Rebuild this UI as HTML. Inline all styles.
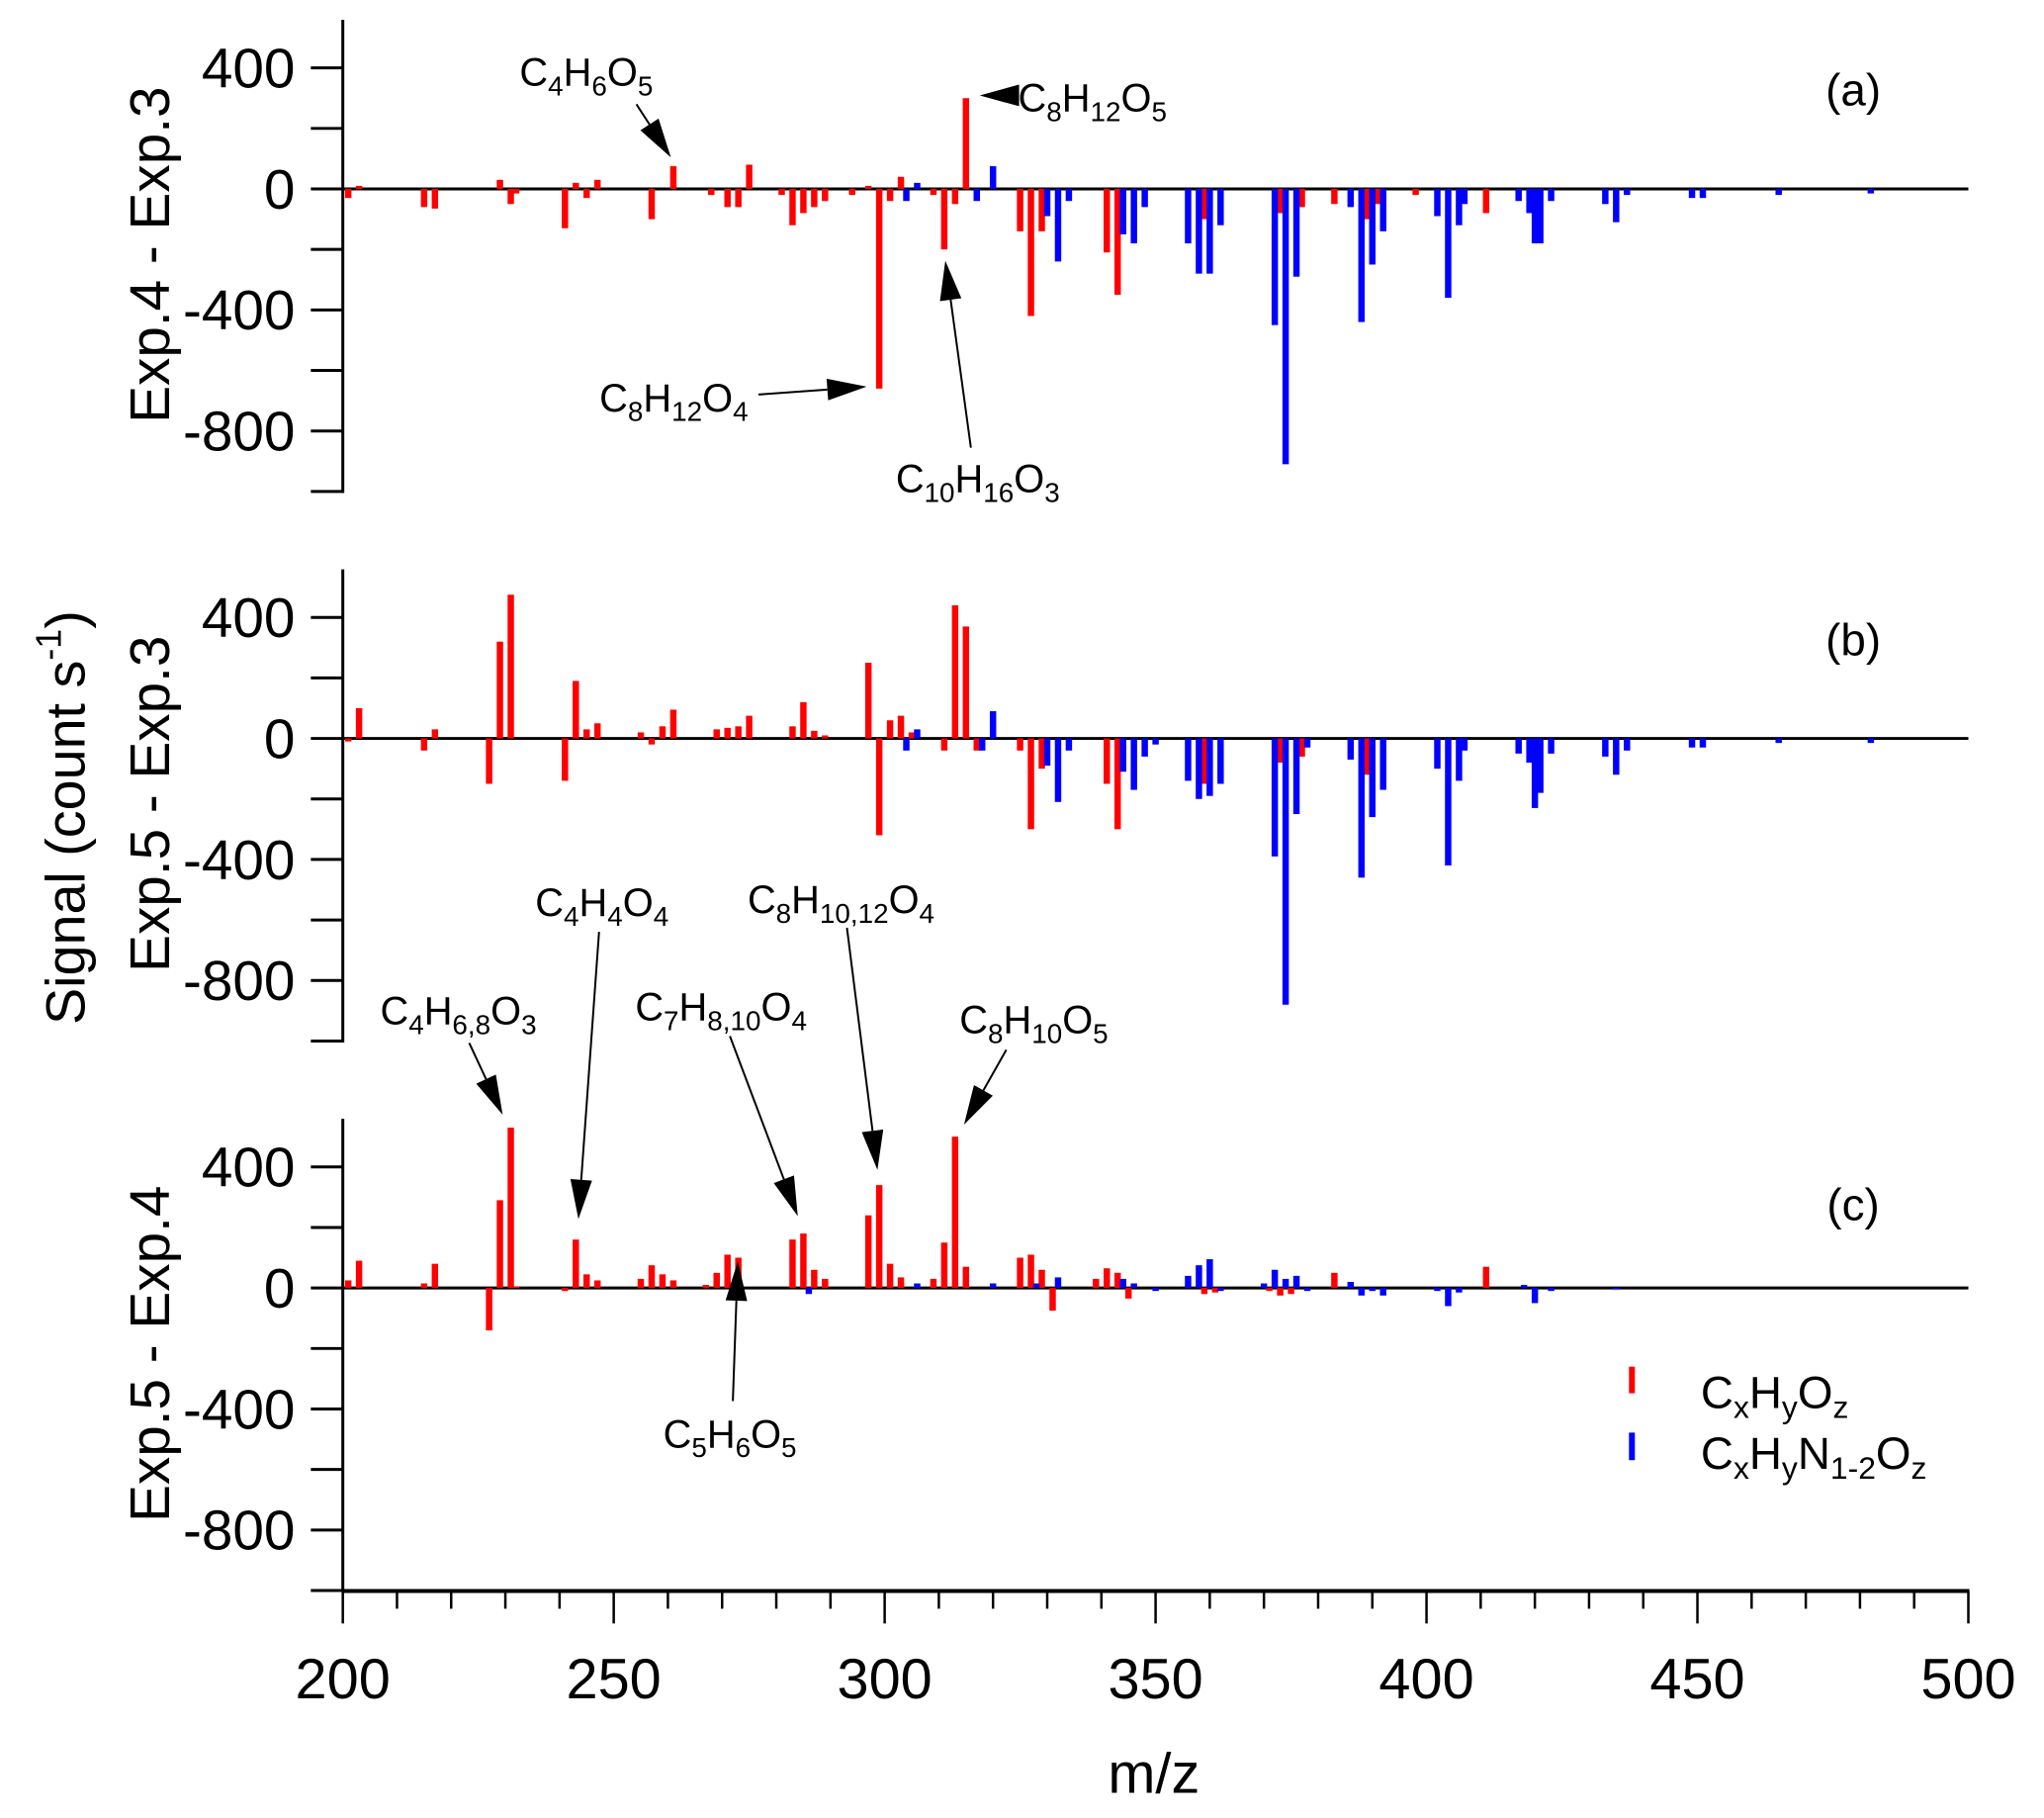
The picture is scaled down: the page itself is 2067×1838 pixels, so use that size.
<!DOCTYPE html>
<html><head><meta charset="utf-8"><style>
html,body{margin:0;padding:0;background:#fff;}
svg{display:block;font-family:"Liberation Sans",Arial,sans-serif;}
</style></head><body>
<svg id="chart" width="2067" height="1838" viewBox="0 0 2067 1838" xmlns="http://www.w3.org/2000/svg">
<g transform="scale(0.99475)">
<g id="axes"></g>
<g id="bars"></g>
<g id="annots"></g>
<text x="1173" y="1822" font-size="58" text-anchor="middle">m/z</text>
<text transform="translate(86,831) rotate(-90)" font-size="56" text-anchor="middle">Signal (count s<tspan dy="-24" font-size="36">-1</tspan><tspan dy="24">)</tspan></text>
<text transform="translate(172,259) rotate(-90)" font-size="57" text-anchor="middle">Exp.4 - Exp.3</text>
<text transform="translate(172,817) rotate(-90)" font-size="57" text-anchor="middle">Exp.5 - Exp.3</text>
<text transform="translate(172,1376) rotate(-90)" font-size="57" text-anchor="middle">Exp.5 - Exp.4</text>
<text x="1884" y="107" font-size="46" text-anchor="middle">(a)</text>
<text x="1884" y="666" font-size="46" text-anchor="middle">(b)</text>
<text x="1884" y="1240" font-size="46" text-anchor="middle">(c)</text>
<g>
<rect x="1656" y="1389" width="6" height="27" fill="#ff0000"/>
<text x="1729" y="1431" font-size="46">C<tspan font-size="32" dy="10">x</tspan><tspan dy="-10">H</tspan><tspan font-size="32" dy="10">y</tspan><tspan dy="-10">O</tspan><tspan font-size="32" dy="10">z</tspan></text>
<rect x="1656" y="1456" width="6" height="28" fill="#0000ff"/>
<text x="1729" y="1493" font-size="46">C<tspan font-size="32" dy="10">x</tspan><tspan dy="-10">H</tspan><tspan font-size="32" dy="10">y</tspan><tspan dy="-10">N</tspan><tspan font-size="32" dy="10">1-2</tspan><tspan dy="-10">O</tspan><tspan font-size="32" dy="10">z</tspan></text>
</g>
</g>
</svg>
<script>
// ---- data ----
const xTicks = [200,250,300,350,400,450,500];
const yTickLabels = [400,0,-400,-800];
const panelNames = ['a','b','c'];

const aRedMz  = [201,203,215,217,229,231,232,241,243,245,247,257,261,268,271,273,275,281,283,285,287,289,294,297,299,301,303,309,311,313,315,325,327,329,341,343,359,373,377,383,389,391,398,411];
const aRedVal = [-30,10,-60,-65,30,-50,-15,-130,20,-30,30,-100,75,-20,-60,-60,80,-20,-120,-80,-60,-40,-20,10,-660,-40,40,-20,-200,-50,300,-140,-420,-140,-210,-350,-100,-80,-60,-50,-100,-50,-20,-80];
const aBlueMz  = [304,306,317,320,330,332,334,344,346,348,356,358,360,362,372,374,376,386,388,390,392,402,404,406,407,417,419,420,421,423,433,435,437,449,451,465,482];
const aBlueVal = [-40,20,-40,75,-90,-240,-40,-150,-180,-60,-180,-280,-280,-120,-450,-910,-290,-60,-440,-250,-140,-90,-360,-120,-50,-40,-80,-180,-180,-40,-50,-110,-20,-30,-30,-20,-15];

const bRedMz  = [201,203,215,217,227,229,231,241,243,245,247,255,257,259,261,269,271,273,275,283,285,287,289,297,299,301,303,305,311,313,315,317,325,327,329,341,343,359,373,377,389];
const bRedVal = [-10,100,-40,30,-150,320,475,-140,190,30,50,20,-20,40,95,30,35,40,75,40,120,25,10,250,-320,60,75,20,-40,440,370,-40,-40,-300,-100,-150,-300,-150,-80,-60,-120];
const bBlueMz  = [304,306,318,320,330,332,334,344,346,348,350,356,358,360,362,372,374,376,378,386,388,390,392,402,404,406,407,417,419,420,421,423,433,435,437,449,451,465,482];
const bBlueVal = [-40,30,-40,90,-90,-210,-40,-110,-170,-60,-20,-140,-200,-190,-150,-390,-880,-250,-30,-70,-460,-260,-170,-100,-420,-140,-40,-50,-80,-230,-180,-50,-60,-120,-40,-30,-30,-15,-15];

const cRedMz  = [201,203,215,217,227,229,231,232,241,243,245,247,255,257,259,261,267,269,271,273,283,285,287,289,297,299,301,303,309,311,313,315,325,327,329,331,339,341,343,345,359,361,371,373,375,383,411];
const cRedVal = [25,90,15,80,-140,290,530,5,-10,160,45,25,30,75,45,25,10,50,110,100,160,180,60,30,240,340,80,35,30,150,500,70,100,110,60,-75,30,65,50,-35,-20,-15,-10,-25,-20,50,70];
const cBlueMz  = [286,306,320,328,332,344,346,350,356,358,360,362,370,372,374,376,378,386,388,390,392,402,404,406,418,420,423,435];
const cBlueVal = [-20,15,15,15,35,30,15,-10,40,75,95,-10,15,60,30,40,-10,20,-25,-10,-25,-10,-60,-15,10,-50,-10,-5];

// ---- layout ----
const X0 = 348.5, X1 = 2001, MZ0 = 200, MZ1 = 500;
const zeroY = [192, 750.5, 1309];
const K = 0.3075;
const VMAX = 559, VMIN = -1005;
const BW = 6.5;
const NS = 'http://www.w3.org/2000/svg';
function xs(m){ return X0 + (m - MZ0) * (X1 - X0) / (MZ1 - MZ0); }
function ys(p, v){ return zeroY[p] - v * K; }
function el(tag, attrs, parent){
  const e = document.createElementNS(NS, tag);
  for (const k in attrs) e.setAttribute(k, attrs[k]);
  parent.appendChild(e); return e;
}
const axes = document.getElementById('axes');
const bars = document.getElementById('bars');
const annots = document.getElementById('annots');

for (let p = 0; p < 3; p++){
  const yl = el('line', {x1:X0, x2:X0, y1:ys(p,VMAX), y2:ys(p,VMIN), stroke:'#000','stroke-width':3}, axes);
  
  
  for (let v = 400; v >= -1000; v -= 200){
    const t = el('line', {x1:316, x2:X0, y1:ys(p,v), y2:ys(p,v), stroke:'#000','stroke-width':3}, axes);
    
    
  }
  yTickLabels.forEach(v => {
    const t = el('text', {x:300, y:ys(p,v)+20, 'font-size':57, 'text-anchor':'end'}, axes);
    t.textContent = v;
    
    
  });
}

function drawSeries(p, mz, vals, color, name){
  mz.forEach((m, i) => {
    const v = vals[i];
    const y0 = ys(p, 0), y1 = ys(p, v);
    const r = el('rect', {x: xs(m) - BW/2, y: Math.min(y0,y1), width: BW, height: Math.max(1, Math.abs(y1-y0)), fill: color}, bars);
    
    
  });
}
drawSeries(0, aRedMz, aRedVal, '#ff0000', 'panel-a-cxhyoz');
drawSeries(0, aBlueMz, aBlueVal, '#0000ff', 'panel-a-cxhyn12oz');
drawSeries(1, bRedMz, bRedVal, '#ff0000', 'panel-b-cxhyoz');
drawSeries(1, bBlueMz, bBlueVal, '#0000ff', 'panel-b-cxhyn12oz');
drawSeries(2, cRedMz, cRedVal, '#ff0000', 'panel-c-cxhyoz');
drawSeries(2, cBlueMz, cBlueVal, '#0000ff', 'panel-c-cxhyn12oz');

for (let p = 0; p < 3; p++){
  const z = el('line', {x1:X0, x2:X1, y1:zeroY[p], y2:zeroY[p], stroke:'#000','stroke-width':3}, axes);
  
  
}

const xa = el('line', {x1:X0, x2:X1+1, y1:1617, y2:1617, stroke:'#000','stroke-width':4}, axes);


for (let m = MZ0; m <= MZ1; m += 10){
  const major = (m % 50 === 0);
  const t = el('line', {x1:xs(m), x2:xs(m), y1:1617, y2: major ? 1650 : 1635, stroke:'#000','stroke-width':2.5}, axes);
  
  
}
xTicks.forEach(m => {
  const t = el('text', {x:xs(m), y:1726, 'font-size':58, 'text-anchor':'middle'}, axes);
  t.textContent = m;
  
  
});

function formula(x, y, str, anchor, name){
  const t = el('text', {x:x, y:y, 'font-size':40, 'text-anchor':anchor}, annots);
  
  
  const parts = str.split(/(_[^A-Z]+)/).filter(s => s.length);
  let sub = false;
  parts.forEach(s => {
    const ts = document.createElementNS(NS, 'tspan');
    if (s[0] === '_'){
      ts.textContent = s.slice(1); ts.setAttribute('font-size', 28);
      ts.setAttribute('dy', sub ? 0 : 10); sub = true;
    } else {
      ts.textContent = s;
      ts.setAttribute('dy', sub ? -10 : 0); sub = false;
    }
    t.appendChild(ts);
  });
}
function arrow(x1, y1, x2, y2, name){
  const dx = x2-x1, dy = y2-y1, L = Math.hypot(dx,dy), ux = dx/L, uy = dy/L;
  const hl = 40, hw = 11;
  const bx = x2 - ux*hl, by = y2 - uy*hl;
  const l = el('line', {x1:x1, y1:y1, x2:bx, y2:by, stroke:'#000', 'stroke-width':2}, annots);
  
  
  const h = el('polygon', {points: `${x2},${y2} ${bx-uy*hw},${by+ux*hw} ${bx+uy*hw},${by-ux*hw}`, fill:'#000'}, annots);
  
  
}
formula(596, 87, 'C_4H_6O_5', 'middle', 'label-c4h6o5');
arrow(647, 106, 682, 160, 'arrow-c4h6o5');
formula(1035, 113, 'C_8H_12O_5', 'start', 'label-c8h12o5');
arrow(1033, 97, 996, 97, 'arrow-c8h12o5');
formula(685, 418, 'C_8H_12O_4', 'middle', 'label-c8h12o4');
arrow(771, 401, 881, 393, 'arrow-c8h12o4');
formula(994, 500, 'C_10H_16O_3', 'middle', 'label-c10h16o3');
arrow(987, 455, 961, 265, 'arrow-c10h16o3');
formula(466, 1041, 'C_4H_6,8O_3', 'middle', 'label-c4h68o3');
arrow(477, 1060, 511, 1133, 'arrow-c4h68o3');
formula(612, 931, 'C_4H_4O_4', 'middle', 'label-c4h4o4');
arrow(609, 947, 588, 1239, 'arrow-c4h4o4');
formula(733, 1037, 'C_7H_8,10O_4', 'middle', 'label-c7h810o4');
arrow(742, 1053, 811, 1236, 'arrow-c7h810o4');
formula(855, 928, 'C_8H_10,12O_4', 'middle', 'label-c8h1012o4');
arrow(861, 943, 892, 1189, 'arrow-c8h1012o4');
formula(1051, 1050, 'C_8H_10O_5', 'middle', 'label-c8h10o5');
arrow(1023, 1067, 980, 1143, 'arrow-c8h10o5');
formula(742, 1471, 'C_5H_6O_5', 'middle', 'label-c5h6o5');
arrow(745, 1424, 750, 1282, 'arrow-c5h6o5');
</script>
</body></html>
